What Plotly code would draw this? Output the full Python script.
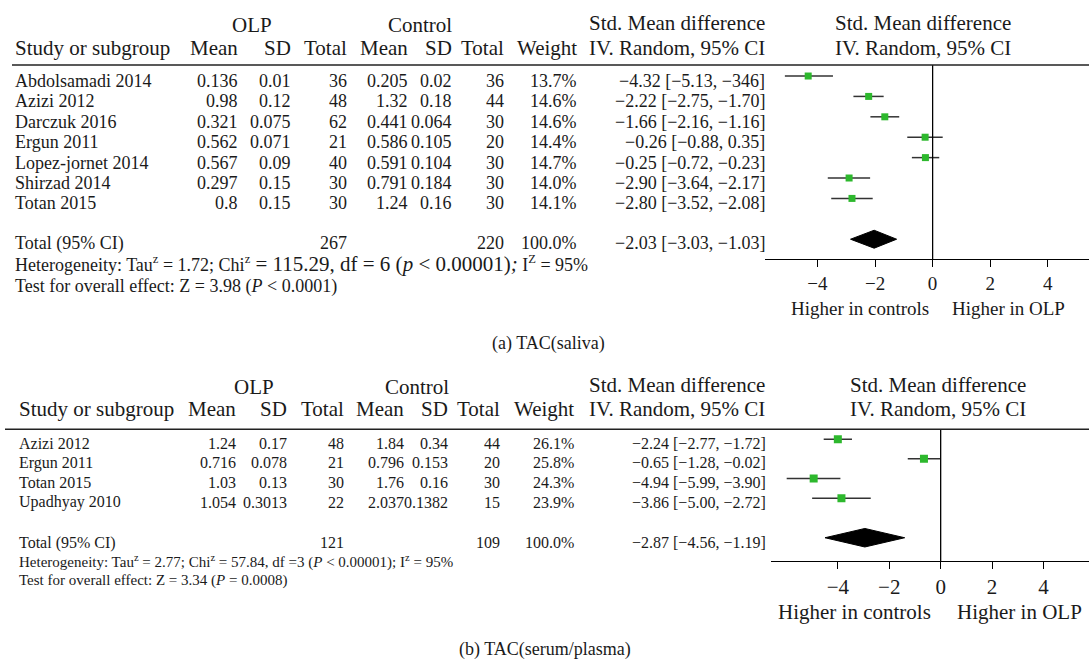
import plotly.graph_objects as go

W, H = 1089, 662
FONT = "Liberation Serif"
M = "\u2212"

# ---------------- Panel (a) TAC(saliva) ----------------
studies_a = ["Abdolsamadi 2014", "Azizi 2012", "Darczuk 2016", "Ergun 2011",
             "Lopez-jornet 2014", "Shirzad 2014", "Totan 2015"]
olp_mean_a = ["0.136", "0.98", "0.321", "0.562", "0.567", "0.297", "0.8"]
olp_sd_a = ["0.01", "0.12", "0.075", "0.071", "0.09", "0.15", "0.15"]
olp_n_a = ["36", "48", "62", "21", "40", "30", "30"]
ctl_mean_a = ["0.205", "1.32", "0.441", "0.586", "0.591", "0.791", "1.24"]
ctl_sd_a = ["0.02", "0.18", "0.064", "0.105", "0.104", "0.184", "0.16"]
ctl_n_a = ["36", "44", "30", "20", "30", "30", "30"]
weight_a = ["13.7%", "14.6%", "14.6%", "14.4%", "14.7%", "14.0%", "14.1%"]
ci_text_a = [M+"4.32 ["+M+"5.13, "+M+"346]", M+"2.22 ["+M+"2.75, "+M+"1.70]",
             M+"1.66 ["+M+"2.16, "+M+"1.16]", M+"0.26 ["+M+"0.88, 0.35]",
             M+"0.25 ["+M+"0.72, "+M+"0.23]", M+"2.90 ["+M+"3.64, "+M+"2.17]",
             M+"2.80 ["+M+"3.52, "+M+"2.08]"]
# plotted effect sizes (as drawn)
smd_a = [-4.32, -2.22, -1.66, -0.26, -0.25, -2.90, -2.80]
lo_a = [-5.13, -2.75, -2.16, -0.88, -0.72, -3.64, -3.52]
hi_a = [-3.46, -1.70, -1.16, 0.35, 0.23, -2.17, -2.08]
total_a = {"olp_n": "267", "ctl_n": "220", "weight": "100.0%",
           "ci": M+"2.03 ["+M+"3.03, "+M+"1.03]"}
pooled_a = (-2.03, -2.85, -1.25)

# ---------------- Panel (b) TAC(serum/plasma) ----------------
studies_b = ["Azizi 2012", "Ergun 2011", "Totan 2015", "Upadhyay 2010"]
olp_mean_b = ["1.24", "0.716", "1.03", "1.054"]
olp_sd_b = ["0.17", "0.078", "0.13", "0.3013"]
olp_n_b = ["48", "21", "30", "22"]
ctl_mean_b = ["1.84", "0.796", "1.76", "2.037"]
ctl_sd_b = ["0.34", "0.153", "0.16", "0.1382"]
ctl_n_b = ["44", "20", "30", "15"]
weight_b = ["26.1%", "25.8%", "24.3%", "23.9%"]
ci_text_b = [M+"2.24 ["+M+"2.77, "+M+"1.72]", M+"0.65 ["+M+"1.28, "+M+"0.02]",
             M+"4.94 ["+M+"5.99, "+M+"3.90]", M+"3.86 ["+M+"5.00, "+M+"2.72]"]
smd_b = [-4.00, -0.65, -4.94, -3.86]
lo_b = [-4.55, -1.28, -5.99, -5.00]
hi_b = [-3.45, -0.02, -3.90, -2.72]
total_b = {"olp_n": "121", "ctl_n": "109", "weight": "100.0%",
           "ci": M+"2.87 ["+M+"4.56, "+M+"1.19]"}
pooled_b = (-2.95, -4.50, -1.40)

tick_vals = [-4, -2, 0, 2, 4]
tick_text = [M+"4", M+"2", "0", "2", "4"]


def px(x):
    return x / W


def py(y):
    return 1 - y / H


fig = go.Figure()
GREEN = "#2db82d"
LINE = "#333333"


def add_forest(xa, ya, smd, lo, hi, pooled, total_row, msize, dh):
    for i, (m, l, h) in enumerate(zip(smd, lo, hi)):
        fig.add_trace(go.Scatter(x=[l, h], y=[i, i], mode="lines",
                                 line=dict(color=LINE, width=1.5),
                                 xaxis=xa, yaxis=ya, showlegend=False, hoverinfo="skip"))
    fig.add_trace(go.Scatter(x=smd, y=list(range(len(smd))), mode="markers",
                             marker=dict(symbol="square", size=msize, color=GREEN,
                                         line=dict(width=0)),
                             xaxis=xa, yaxis=ya, showlegend=False))
    c, l, h = pooled
    fig.add_trace(go.Scatter(x=[l, c, h, c, l], y=[total_row, total_row - dh, total_row,
                                                   total_row + dh, total_row],
                             mode="lines", fill="toself", fillcolor="black",
                             line=dict(color="black", width=1),
                             xaxis=xa, yaxis=ya, showlegend=False, hoverinfo="skip"))


add_forest("x", "y", smd_a, lo_a, hi_a, pooled_a, 8, 7, 0.44)
add_forest("x2", "y2", smd_b, lo_b, hi_b, pooled_b, 5, 8, 0.47)

axis_common = dict(showline=True, linecolor="black", linewidth=1.3, ticks="outside",
                   ticklen=7, tickwidth=1.3, tickcolor="black", showgrid=False,
                   zeroline=False, tickvals=tick_vals, ticktext=tick_text, fixedrange=True)

fig.update_layout(
    width=W, height=H, margin=dict(l=0, r=0, t=0, b=0),
    paper_bgcolor="white", plot_bgcolor="white",
    font=dict(family=FONT, color="#1a1a1a"),
    xaxis=dict(domain=[px(765), 1], range=[-5.82, 5.43], anchor="y",
               tickfont=dict(size=19, family=FONT, color="#1a1a1a"), **axis_common),
    yaxis=dict(domain=[py(259), py(65)], range=[8.97, -0.54], visible=False,
               anchor="x", fixedrange=True),
    xaxis2=dict(domain=[px(771), 1], range=[-6.6, 5.77], anchor="y2",
                tickfont=dict(size=21, family=FONT, color="#1a1a1a"), **axis_common),
    yaxis2=dict(domain=[py(561), py(429.3)], range=[6.18, -0.5], visible=False,
                anchor="x2", fixedrange=True),
)

shapes = [
    dict(type="line", xref="x", yref="y domain", x0=0, x1=0, y0=0, y1=1,
         line=dict(color="black", width=1.3)),
    dict(type="line", xref="x2", yref="y2 domain", x0=0, x1=0, y0=0, y1=1,
         line=dict(color="black", width=1.3)),
    dict(type="line", xref="paper", yref="paper", x0=px(12), x1=1, y0=py(65), y1=py(65),
         line=dict(color="#222222", width=1.6)),
    dict(type="line", xref="paper", yref="paper", x0=px(5), x1=1, y0=py(429.3), y1=py(429.3),
         line=dict(color="#222222", width=1.6)),
]
fig.update_layout(shapes=shapes)

ann = []


def text(x, y, s, size, xanchor="left", yref="paper", yshift=0):
    ann.append(dict(x=px(x), y=(py(y) if yref == "paper" else y), xref="paper", yref=yref,
                    text=s, showarrow=False, xanchor=xanchor, yanchor="middle",
                    yshift=yshift, font=dict(family=FONT, size=size, color="#1a1a1a")))


def headers(y_top, y_bot, cols, olp_c, ctl_c, left, smd_right, right_c):
    HS = 21
    text(olp_c, y_top, "OLP", HS, "center")
    text(ctl_c, y_top, "Control", HS, "center")
    text(left, y_bot, "Study or subgroup", HS)
    for lab, xr in zip(["Mean", "SD", "Total", "Mean", "SD", "Total", "Weight"], cols[:7]):
        text(xr, y_bot, lab, HS, "right")
    text(smd_right, y_top - 2, "Std. Mean difference", HS, "right")
    text(smd_right, y_bot, "IV. Random, 95% CI", HS, "right")
    text(right_c, y_top - 2, "Std. Mean difference", HS, "center")
    text(right_c, y_bot, "IV. Random, 95% CI", HS, "center")


def rows(yref, studies, cols_data, cols_x, left, size, shift):
    for i, s in enumerate(studies):
        text(left, i, s, size, "left", yref=yref, yshift=shift)
        for col, xr in zip(cols_data, cols_x):
            text(xr, i, col[i], size, "right", yref=yref, yshift=shift)


# panel a
cols_a = [240, 293, 349, 410, 453.6, 506, 578.8, 766.7]
headers(25, 48, cols_a, 252, 420, 13, 766.7, 923)
rows("y", studies_a, [olp_mean_a, olp_sd_a, olp_n_a, ctl_mean_a, ctl_sd_a, ctl_n_a,
                      weight_a, ci_text_a], cols_a, 13, 18, -5)
text(13, 8, "Total (95% CI)", 18, "left", yref="y", yshift=-4)
text(cols_a[2], 8, total_a["olp_n"], 18, "right", yref="y", yshift=-4)
text(cols_a[5], 8, total_a["ctl_n"], 18, "right", yref="y", yshift=-4)
text(cols_a[6], 8, total_a["weight"], 18, "right", yref="y", yshift=-4)
text(cols_a[7], 8, total_a["ci"], 18, "right", yref="y", yshift=-4)
text(13, 264, "Heterogeneity: Tau<sup>z</sup> = 1.72; Chi<sup>z</sup>"
     "<span style='font-size:21px'> = 115.29, df = 6 (<i>p</i> &lt; 0.00001)<i>;</i></span>"
     " I<sup>Z</sup> = 95%", 18)
text(13, 286, "Test for overall effect: Z = 3.98 (<i>P</i> &lt; 0.0001)", 18)
text(860, 308, "Higher in controls", 19, "center")
text(1008, 308, "Higher in OLP", 19, "center")
text(548, 343, "(a) TAC(saliva)", 18, "center")

# panel b
cols_b = [237.5, 289, 345.7, 406, 450, 501.8, 576, 768]
headers(387, 409, cols_b, 254, 417, 17, 767, 937.6)
rows("y2", studies_b, [olp_mean_b, olp_sd_b, olp_n_b, ctl_mean_b, ctl_sd_b, ctl_n_b,
                       weight_b, ci_text_b], cols_b, 17, 16, -4)
text(17, 5, "Total (95% CI)", 16, "left", yref="y2", yshift=-5)
text(cols_b[2], 5, total_b["olp_n"], 16, "right", yref="y2", yshift=-5)
text(cols_b[5], 5, total_b["ctl_n"], 16, "right", yref="y2", yshift=-5)
text(cols_b[6], 5, total_b["weight"], 16, "right", yref="y2", yshift=-5)
text(cols_b[7], 5, total_b["ci"], 16, "right", yref="y2", yshift=-5)
text(17, 561, "Heterogeneity: Tau<sup>z</sup> = 2.77; Chi<sup>z</sup> = 57.84, df =3 "
     "(<i>P</i> &lt; 0.00001); I<sup>z</sup> = 95%", 15)
text(17, 580, "Test for overall effect: Z = 3.34 (<i>P</i> = 0.0008)", 15)
text(854, 612, "Higher in controls", 21, "center")
text(1019, 612, "Higher in OLP", 21, "center")
text(545, 649, "(b) TAC(serum/plasma)", 18, "center")

fig.update_layout(annotations=ann)
fig.write_html("out.html", config={"displayModeBar": False},
               post_script="document.body.style.margin='0';")
